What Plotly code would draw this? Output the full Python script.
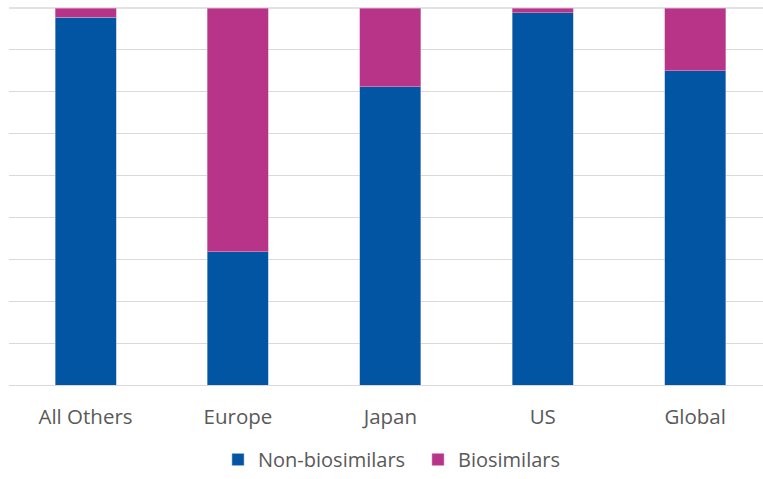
import plotly.graph_objects as go

categories = ["All Others", "Europe", "Japan", "US", "Global"]
non_biosimilars = [0.975, 0.353, 0.791, 0.988, 0.833]
biosimilars = [round(1 - v, 3) for v in non_biosimilars]

BLUE = "#0255A3"
MAGENTA = "#B83489"
GRID = "#D9D9D9"

fig = go.Figure()
fig.add_trace(go.Bar(x=categories, y=non_biosimilars, name="Non-biosimilars",
                     marker=dict(color=BLUE, line=dict(color="#9FB7D8", width=0.6)), width=0.4))
fig.add_trace(go.Bar(x=categories, y=biosimilars, name="Biosimilars",
                     marker=dict(color=MAGENTA, line=dict(color="#D9A0C4", width=0.6)), width=0.4))

# top gridline (at 100%), drawn below the bars
fig.add_shape(type="line", xref="paper", yref="paper", x0=0, x1=1, y0=1, y1=1,
              line=dict(color=GRID, width=1.3), layer="below")

fig.update_layout(
    barmode="stack",
    width=763, height=479,
    margin=dict(l=9, r=0, t=8, b=94, autoexpand=False),
    paper_bgcolor="white", plot_bgcolor="white",
    font=dict(family="Open Sans", color="#595959", size=20),
    showlegend=True,
    legend=dict(orientation="h", x=0.2772, xanchor="left", y=-0.2493, yanchor="bottom",
                font=dict(size=20, color="#595959"), traceorder="normal",
                itemwidth=30, entrywidth=155),
    xaxis=dict(range=[-0.502, 4.445], showgrid=False, showline=False,
               ticks="outside", ticklen=13, tickcolor="rgba(0,0,0,0)",
               tickfont=dict(size=20.5, color="#595959")),
    yaxis=dict(range=[0, 1], dtick=1/9, tick0=0, showticklabels=False,
               gridcolor=GRID, gridwidth=1.3, zeroline=True,
               zerolinecolor=GRID, zerolinewidth=1.3, showline=False),
    bargap=0.6,
)

fig.write_html("out.html")
